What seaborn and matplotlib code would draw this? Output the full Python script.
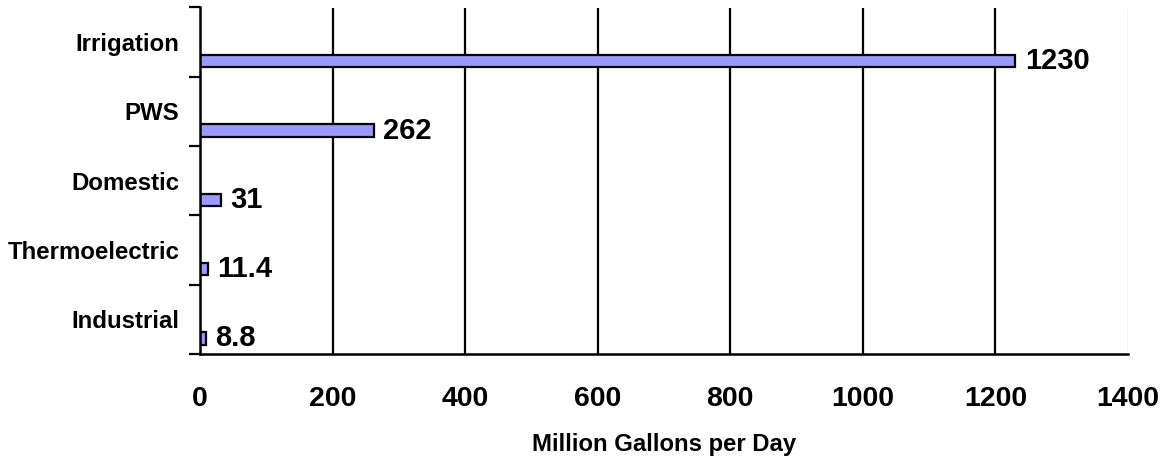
import matplotlib
matplotlib.use("Agg")
import matplotlib.pyplot as plt
import seaborn as sns
import pandas as pd
from matplotlib.ticker import MultipleLocator, FixedLocator

categories = ["Irrigation", "PWS", "Domestic", "Thermoelectric", "Industrial"]
values = [1230, 262, 31, 11.4, 8.8]
value_labels = ["1230", "262", "31", "11.4", "8.8"]
x_ticks = [0, 200, 400, 600, 800, 1000, 1200, 1400]

df = pd.DataFrame({"use": categories, "mgd": values})

sns.set_theme(style="white")
plt.rcParams["font.family"] = ["Liberation Sans", "DejaVu Sans"]
plt.rcParams["font.weight"] = "bold"
plt.rcParams["text.color"] = "black"
plt.rcParams["xtick.color"] = "black"
plt.rcParams["ytick.color"] = "black"
plt.rcParams["axes.labelcolor"] = "black"

fig = plt.figure(figsize=(11.66, 4.57), dpi=100)
ax = fig.add_axes([200 / 1166, 1 - 354 / 457, 928 / 1166, (354 - 7.5) / 457])

bar_h = 0.18
shift = 0.275
sns.barplot(data=df, x="mgd", y="use", order=categories, orient="h",
            color="#9999FF", saturation=1, width=bar_h,
            edgecolor="black", linewidth=1.6, ax=ax, zorder=3)

# bars sit in the lower part of each category band
for p in ax.patches:
    p.set_y(p.get_y() + shift)

for p, lab in zip(ax.patches, value_labels):
    ax.annotate(lab, (p.get_x() + p.get_width(), p.get_y() + p.get_height() / 2),
                xytext=(7, 0), textcoords="offset points",
                ha="left", va="center", fontsize=21, fontweight="bold",
                color="black", zorder=4)

ax.set_xlim(0, 1400)
ax.set_ylim(len(categories) - 0.5, -0.5)
ax.xaxis.set_major_locator(FixedLocator(x_ticks))
ax.set_xticklabels([str(t) for t in x_ticks], fontsize=20.5, fontweight="bold")
ax.tick_params(axis="x", length=8, width=1.6, colors="black", pad=15, direction="out")

ax.set_yticks(range(len(categories)))
ax.set_yticklabels(categories, fontsize=17.3, fontweight="bold")
ax.yaxis.set_minor_locator(MultipleLocator(1, offset=0.5))
ax.tick_params(axis="y", which="major", length=0, pad=15, colors="black")
ax.tick_params(axis="y", which="minor", length=8, width=1.6, color="black",
               direction="out", left=True)

ax.grid(axis="x", color="black", linewidth=1.6, zorder=1)
gl = ax.get_xgridlines()
gl[-1].set_color("#c8c8c8")
gl[-1].set_linewidth(1.0)
gl[0].set_visible(False)

for s in ["top", "right"]:
    ax.spines[s].set_visible(False)
for s in ["left", "bottom"]:
    ax.spines[s].set_color("black")
    ax.spines[s].set_linewidth(1.8)
    ax.spines[s].set_zorder(5)

ax.set_ylabel("")
ax.set_xlabel("Million Gallons per Day", fontsize=17.2, fontweight="bold",
              labelpad=15, color="black")

fig.savefig("out.png", dpi=100, facecolor="white")
